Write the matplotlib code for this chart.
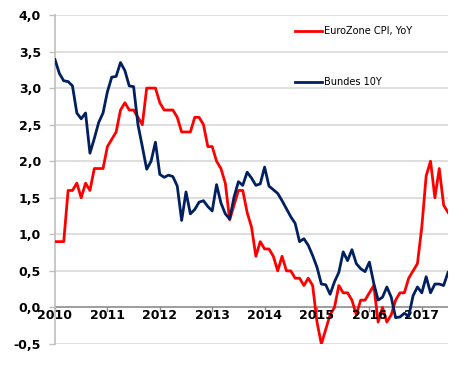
import matplotlib
matplotlib.use("Agg")
import matplotlib.pyplot as plt
from matplotlib.ticker import FixedLocator, FuncFormatter

# Monthly data, first point = Dec 2009, last = Jun 2017
cpi_yoy = [
    0.9,
    0.9, 0.9, 1.6, 1.6, 1.7, 1.5, 1.7, 1.6, 1.9, 1.9, 1.9, 2.2,
    2.3, 2.4, 2.7, 2.8, 2.7, 2.7, 2.6, 2.5, 3.0, 3.0, 3.0, 2.8,
    2.7, 2.7, 2.7, 2.6, 2.4, 2.4, 2.4, 2.6, 2.6, 2.5, 2.2, 2.2,
    2.0, 1.9, 1.7, 1.2, 1.4, 1.6, 1.6, 1.3, 1.1, 0.7, 0.9, 0.8,
    0.8, 0.7, 0.5, 0.7, 0.5, 0.5, 0.4, 0.4, 0.3, 0.4, 0.3, -0.2,
    -0.5, -0.3, -0.1, 0.0, 0.3, 0.2, 0.2, 0.1, -0.1, 0.1, 0.1, 0.2,
    0.3, -0.2, 0.0, -0.2, -0.1, 0.1, 0.2, 0.2, 0.4, 0.5, 0.6, 1.1,
    1.8, 2.0, 1.5, 1.9, 1.4, 1.3,
]
bund_10y = [
    3.39,
    3.20, 3.10, 3.09, 3.03, 2.66, 2.58, 2.66, 2.11, 2.31, 2.53, 2.66, 2.95,
    3.15, 3.16, 3.35, 3.24, 3.03, 3.02, 2.50, 2.20, 1.89, 2.00, 2.26, 1.82,
    1.78, 1.81, 1.79, 1.66, 1.19, 1.58, 1.28, 1.34, 1.44, 1.46, 1.38, 1.32,
    1.68, 1.43, 1.28, 1.21, 1.51, 1.72, 1.67, 1.85, 1.77, 1.67, 1.69, 1.92,
    1.66, 1.61, 1.56, 1.46, 1.35, 1.24, 1.15, 0.90, 0.94, 0.85, 0.71, 0.55,
    0.32, 0.31, 0.18, 0.35, 0.48, 0.76, 0.64, 0.79, 0.60, 0.53, 0.49, 0.62,
    0.33, 0.10, 0.14, 0.28, 0.14, -0.14, -0.13, -0.08, -0.12, 0.16, 0.28, 0.20,
    0.42, 0.20, 0.32, 0.32, 0.30, 0.48,
]
year_labels = ["2010", "2011", "2012", "2013", "2014", "2015", "2016", "2017"]
y_ticks = [-0.5, 0.0, 0.5, 1.0, 1.5, 2.0, 2.5, 3.0, 3.5, 4.0]
series_names = ["EuroZone CPI, YoY", "Bundes 10Y"]

RED = "#FF0000"
NAVY = "#002060"

fig = plt.figure(figsize=(4.56, 3.74), dpi=100)
ax = fig.add_axes([55 / 456, 1 - 344 / 374, (448 - 55) / 456, (344 - 15) / 374])

x = list(range(len(cpi_yoy)))
l1, = ax.plot(x, cpi_yoy, color=RED, lw=2.0, solid_joinstyle="round", zorder=3)
l2, = ax.plot(list(range(len(bund_10y))), bund_10y, color=NAVY, lw=2.0,
              solid_joinstyle="round", zorder=4)

ax.set_xlim(0, len(cpi_yoy) - 1)
ax.set_ylim(-0.5, 4.0)

# grid
for v in y_ticks:
    if v != 0.0:
        ax.axhline(v, color="#D9D9D9", lw=1.2, zorder=1)

# spines
for s in ["top", "right", "bottom"]:
    ax.spines[s].set_visible(False)
ax.spines["left"].set_color("#BFBFBF")
ax.spines["left"].set_linewidth(1.2)
ax.axhline(0.0, color="#8C8C8C", lw=1.2, zorder=2)

# y ticks
ax.yaxis.set_major_locator(FixedLocator(y_ticks))
ax.yaxis.set_major_formatter(FuncFormatter(lambda v, p: f"{v:.1f}".replace(".", ",")))
ax.tick_params(axis="y", length=4, width=1, color="#BFBFBF", pad=6,
               labelsize=9)
for lab in ax.get_yticklabels():
    lab.set_fontweight("bold")

# x ticks / labels
ax.set_xticks([])
xt = [12 * i for i in range(len(year_labels))]
for pos, lab in zip(xt, year_labels):
    ax.plot([pos, pos], [0.0, -0.045], color="#8C8C8C", lw=1.0, clip_on=False, zorder=2)
    ax.text(pos, -0.115, lab, ha="center", va="center", fontsize=9,
            fontweight="bold", color="black")

# legend
leg1 = ax.legend(handles=[l1], labels=[series_names[0]], loc="center left",
                 bbox_to_anchor=(295 / 456, 1 - 31 / 374), bbox_transform=fig.transFigure,
                 frameon=False, fontsize=7, handlelength=2.8, handletextpad=0.2,
                 borderpad=0, borderaxespad=0)
ax.add_artist(leg1)
ax.legend(handles=[l2], labels=[series_names[1]], loc="center left",
          bbox_to_anchor=(295 / 456, 1 - 82 / 374), bbox_transform=fig.transFigure,
          frameon=False, fontsize=7, handlelength=2.8, handletextpad=0.2,
          borderpad=0, borderaxespad=0)

fig.savefig("out.png", dpi=100)
